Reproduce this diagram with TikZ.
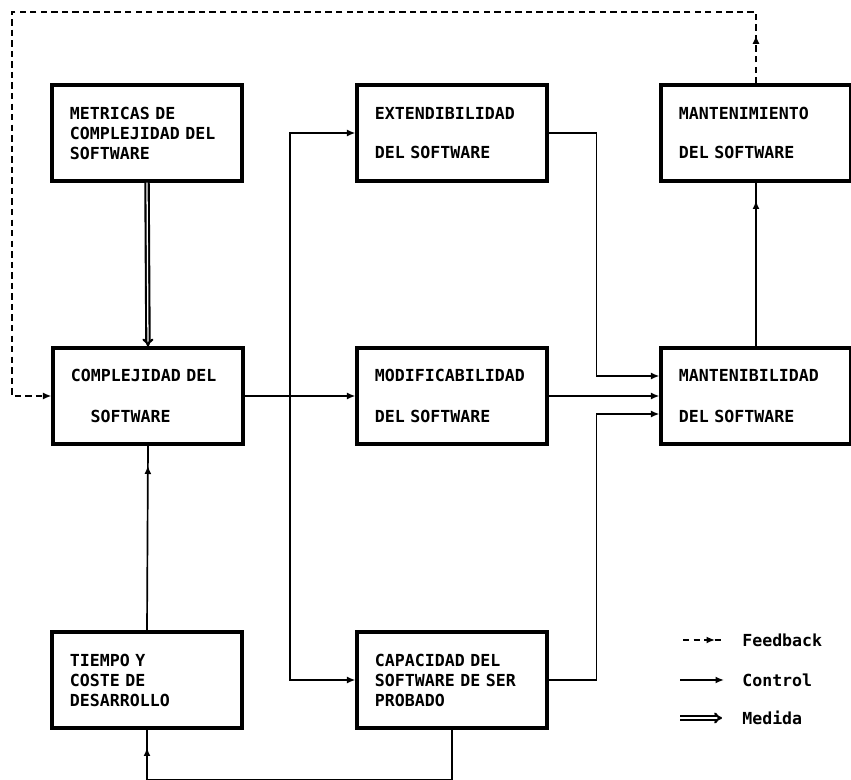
\documentclass[tikz,border=0pt]{standalone}
\usepackage{fontspec}
\setmonofont{DejaVu Sans Mono}
\usetikzlibrary{arrows.meta, decorations.markings}

\tikzset{
  caja/.style={draw, line width=2.2pt, minimum width=4.75cm, minimum height=2.4cm,
    text width=3.85cm, align=left, inner sep=0pt,
    font=\fontsize{11.8}{14.2}\selectfont\ttfamily\bfseries},
  leyenda/.style={inner sep=0pt, anchor=west, font=\fontsize{11.8}{14.2}\selectfont\ttfamily\bfseries},
  linea/.style={line width=1.2pt},
  control/.style={linea, -{Latex[length=6pt,width=5pt]}},
  feedback/.style={line width=1.4pt, dash pattern=on 4.5pt off 3pt},
  medida/.style={double, line width=1.5pt, double distance=0.9pt, -{Implies[length=6pt]}},
  flechaen/.style={postaction={decorate, decoration={markings,
    mark=at position #1 with {\arrow{Latex[length=6pt,width=5pt]}}}}},
}

\begin{document}
\begin{tikzpicture}[x=0.025cm, y=-0.025cm]
  \useasboundingbox (0,0) rectangle (851,780);

  % cajas
  \node[caja] (metr) at (147,133) {METRICAS DE\\COMPLEJIDAD DEL\\SOFTWARE};
  \node[caja] (exte) at (452,133) {EXTENDIBILIDAD\\[14pt]DEL SOFTWARE};
  \node[caja] (mant) at (756,133) {MANTENIMIENTO\\[14pt]DEL SOFTWARE};
  \node[caja] (comp) at (148,396) {COMPLEJIDAD DEL\\[15pt]\hspace*{14pt}SOFTWARE};
  \node[caja] (modi) at (452,396) {MODIFICABILIDAD\\[15pt]DEL SOFTWARE};
  \node[caja] (mbil) at (756,396) {MANTENIBILIDAD\\[15pt]DEL SOFTWARE};
  \node[caja] (tiem) at (147,680) {TIEMPO Y\\COSTE DE\\DESARROLLO};
  \node[caja] (capa) at (452,680) {CAPACIDAD DEL\\SOFTWARE DE SER\\PROBADO};

  % medida
  \draw[medida] (metr.south) -- (comp.north);

  % control
  \coordinate (rama) at (290,396);
  \draw[control] (comp.east) -- (modi.west);
  \draw[control] (rama) |- (exte.west);
  \draw[control] (rama) |- (capa.west);
  \draw[control] (exte.east) -- ++(48,0) |- ([yshift=0.5cm]mbil.west);
  \draw[control] (modi.east) -- (mbil.west);
  \draw[control] (capa.east) -- ++(48,0) |- ([yshift=-0.45cm]mbil.west);
  \draw[linea, flechaen=-0.45cm] (mbil.north) -- (mant.south);
  \draw[linea, flechaen=-0.5cm] (tiem.north) -- (comp.south);
  \draw[linea, flechaen=-0.45cm] (capa.south) -- ++(0,50) -| (tiem.south);

  % feedback
  \coordinate (fbA) at (756,12);
  \coordinate (fbB) at (12,12);
  \draw[feedback, flechaen=1.2cm, -{Latex[length=6pt,width=5pt]}]
    (mant.north) -- (fbA) -- (fbB) |- (comp.west);

  % leyenda
  \node[leyenda] (lfeed) at (742,640) {Feedback};
  \node[leyenda] (lcont) at (742,680) {Control};
  \node[leyenda] (lmed) at (742,718) {Medida};
  \coordinate (lf0) at (683,640);
  \coordinate (lc0) at (680,680);
  \coordinate (lm0) at (680,718);
  \draw[feedback, flechaen=0.8cm, shorten >=0.5cm] (lf0) -- (lfeed.west);
  \draw[control, shorten >=0.45cm] (lc0) -- (lcont.west);
  \draw[medida, shorten >=0.5cm] (lm0) -- (lmed.west);
\end{tikzpicture}
\end{document}
